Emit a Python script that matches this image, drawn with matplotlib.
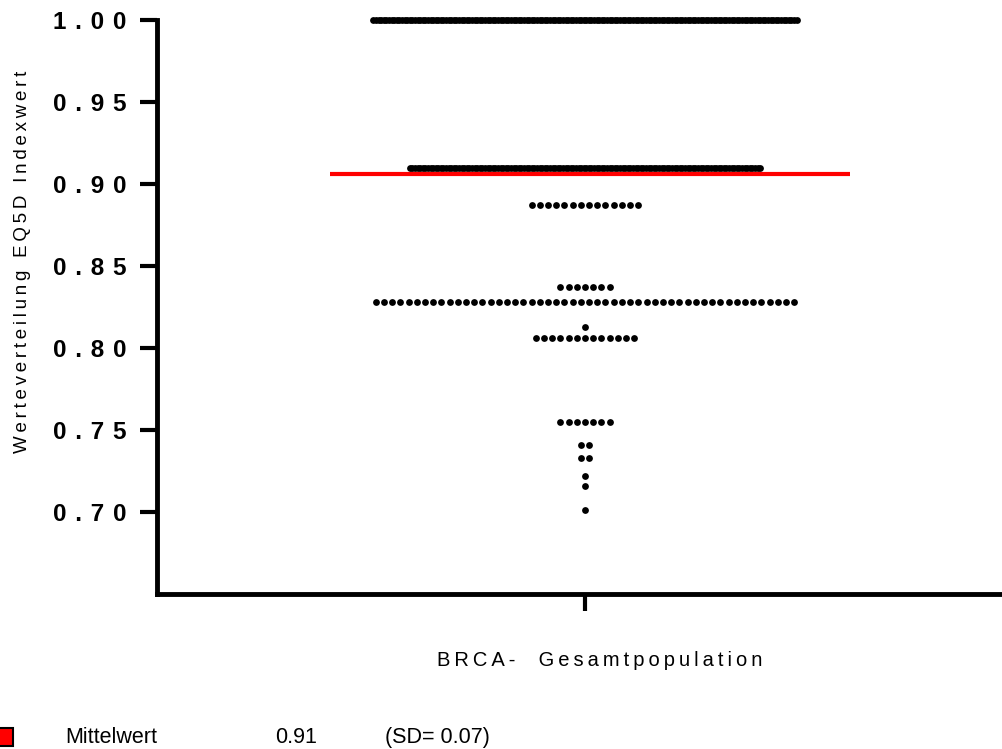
import numpy as np
import matplotlib
matplotlib.use("Agg")
import matplotlib.pyplot as plt
from matplotlib.patches import Rectangle
from matplotlib.ticker import FuncFormatter

plt.rcParams['font.family'] = ['Liberation Sans', 'DejaVu Sans']

# EQ-5D index values and the number of patients on each value
index_values = [1.000, 0.910, 0.887, 0.837, 0.828, 0.813, 0.806, 0.755, 0.741, 0.733, 0.722, 0.716, 0.701]
patient_counts = [164, 136, 14, 7, 52, 1, 13, 7, 2, 2, 1, 1, 1]
mean_value = 0.906
sd_value = 0.07
y_ticks = [0.70, 0.75, 0.80, 0.85, 0.90, 0.95, 1.00]
group_label = "BRCA-  Gesamtpopulation"
y_label = "Werteverteilung EQ5D Indexwert"

# horizontal packing of the dots (axis units)
DOT_STEP = 0.00973
DENSE_STEP = 0.00308
MAX_WIDTH = 0.503


def row_offsets(n):
    step = DOT_STEP if (n - 1) * DOT_STEP <= MAX_WIDTH + 1e-9 else DENSE_STEP
    return (np.arange(n) - (n - 1) / 2) * step


def spaced(text, sep="\u2009"):
    return sep.join(text)


xs, ys = [], []
for val, n in zip(index_values, patient_counts):
    xs.extend(row_offsets(n))
    ys.extend([val] * n)

fig = plt.figure(figsize=(10.03, 7.49), dpi=100)
ax = fig.add_axes([157 / 1003, 155 / 749, 843 / 1003, 574 / 749])

ax.scatter(xs, ys, s=24, color="black", linewidths=0, zorder=3, clip_on=False)
ax.hlines(mean_value, -0.3025, 0.314, color="red", lw=3, zorder=4)

ax.set_xlim(-0.5077, 0.4923)
ax.set_ylim(0.65, 1.0)
ax.set_yticks(y_ticks)
ax.yaxis.set_major_formatter(FuncFormatter(lambda v, p: spaced(f"{v:.2f}", " \u200a")))
ax.set_xticks([0])
ax.set_xticklabels([""])

for side in ["top", "right"]:
    ax.spines[side].set_visible(False)
for side in ["left", "bottom"]:
    ax.spines[side].set_linewidth(3.5)
    ax.spines[side].set_capstyle("projecting")
ax.tick_params(axis="both", length=12, width=3, direction="out")
ax.tick_params(axis="y", pad=10, labelsize=17.5)
for lbl in ax.get_yticklabels():
    lbl.set_fontweight("bold")

fig.text(23 / 1003, 1 - 262 / 749, spaced(y_label), rotation=90,
         ha="center", va="center", fontsize=13.5)
fig.text(600 / 1003, 1 - 660 / 749, spaced(group_label),
         ha="center", va="center", fontsize=14.5)

# legend line at the bottom
fig.add_artist(Rectangle((-0.002, 0.004), 0.015, 0.024, transform=fig.transFigure,
                         facecolor="red", edgecolor="black", lw=1.5))
fig.text(65 / 1003, 0.016, "Mittelwert", va="center", fontsize=15.5)
fig.text(275 / 1003, 0.016, f"{mean_value:.2f}", va="center", fontsize=15.5)
fig.text(385 / 1003, 0.016, f"(SD= {sd_value:.2f})", va="center", fontsize=15.5)

fig.savefig("out.png", dpi=100)
